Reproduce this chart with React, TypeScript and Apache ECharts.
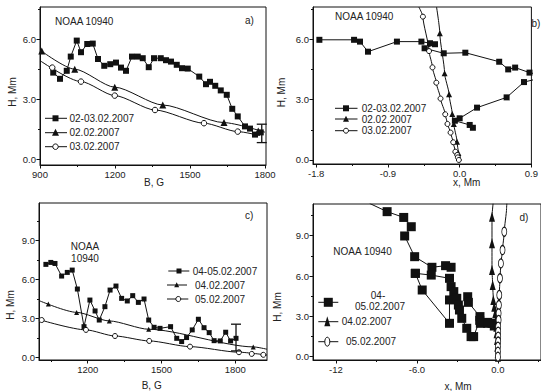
import React, { useEffect, useRef } from "react";
import * as echarts from "echarts";

const FONT = "'Liberation Sans', Arial, sans-serif";
const INK = "#111";

// ---------- Panel a ----------
const aSqB = [953, 980, 1007, 1023, 1047, 1064, 1089, 1111, 1132, 1157, 1181, 1204, 1224, 1244, 1268, 1291, 1311, 1335, 1356, 1383, 1404, 1424, 1447, 1468, 1491, 1537, 1564, 1580, 1601, 1623, 1647, 1669, 1691, 1720, 1740, 1760, 1783];
const aSqH = [4.32, 4.01, 4.41, 5.12, 5.92, 5.34, 5.75, 5.77, 5.0, 4.66, 4.74, 4.82, 4.57, 4.41, 5.12, 5.12, 5.04, 4.59, 5.04, 5.04, 4.94, 4.87, 4.71, 4.54, 4.52, 4.12, 3.74, 3.86, 3.66, 3.43, 3.21, 2.51, 2.13, 1.63, 1.52, 1.22, 1.33];
const aTriB = [907, 1039, 1199, 1391, 1636, 1773];
const aTriH = [5.4, 4.49, 3.59, 2.7, 1.82, 1.4];
const aTriCurveB = [900, 1039, 1199, 1391, 1636, 1800];
const aTriCurveH = [5.45, 4.49, 3.59, 2.7, 1.82, 1.34];
const aCirB = [949, 1064, 1199, 1360, 1556, 1691];
const aCirH = [4.57, 3.87, 3.17, 2.45, 1.79, 1.37];
const aCirCurveB = [900, 1064, 1199, 1360, 1556, 1691, 1780];
const aCirCurveH = [4.92, 3.87, 3.17, 2.45, 1.79, 1.37, 1.17];
const aErr = [1787, 1.28, 0.46];

// ---------- Panel b ----------
const bSqX = [-1.76, -1.325, -1.25, -1.15, -0.787, -0.48, -0.372, -0.309, -0.44, -0.2, 0.071, 0.496, 0.609, 0.696, 0.876, 1.1, 0.807, 0.589, 0.218, 0.0, -0.06, 0.126, 0.166];
const bSqH = [5.97, 5.97, 5.88, 5.38, 5.88, 5.88, 5.8, 5.75, 5.55, 5.3, 5.33, 4.88, 4.5, 4.59, 4.34, 4.15, 3.87, 3.11, 2.6, 2.07, 1.95, 1.74, 1.6];
const bTriX = [-0.249, -0.189, -0.133, -0.093, -0.073, -0.033, -0.016];
const bTriH = [6.29, 4.31, 3.26, 2.29, 1.79, 0.91, 0.35];
const bTriCurveX = [-0.29, -0.249, -0.189, -0.133, -0.093, -0.073, -0.033, -0.016, 0.0];
const bTriCurveH = [7.6, 6.29, 4.31, 3.26, 2.29, 1.79, 0.91, 0.35, 0.0];
const bCirX = [-0.461, -0.384, -0.341, -0.293, -0.24, -0.181, -0.153, -0.114, -0.081, -0.054, -0.03, -0.022, -0.01];
const bCirH = [7.12, 5.41, 4.6, 3.84, 3.05, 2.27, 1.79, 1.36, 0.88, 0.41, 0.25, 0.13, 0.0];
const bCirCurveX = [-0.512, -0.461, -0.384, -0.341, -0.293, -0.24, -0.181, -0.153, -0.114, -0.081, -0.054, -0.03, -0.01];
const bCirCurveH = [7.6, 7.12, 5.41, 4.6, 3.84, 3.05, 2.27, 1.79, 1.36, 0.88, 0.41, 0.25, 0.0];

// ---------- Panel c ----------
const cSqB = [1030, 1050, 1067, 1094, 1117, 1137, 1158, 1185, 1209, 1230, 1247, 1270, 1291, 1315, 1338, 1361, 1383, 1406, 1429, 1448, 1470, 1494, 1537, 1562, 1582, 1602, 1625, 1650, 1673, 1694, 1714, 1739, 1761, 1781, 1803];
const cSqH = [7.17, 7.32, 7.24, 6.27, 6.55, 6.73, 5.27, 2.37, 4.42, 3.58, 2.88, 3.91, 5.19, 5.5, 4.55, 4.35, 4.76, 4.24, 4.5, 2.88, 2.32, 2.24, 2.37, 1.47, 1.22, 1.53, 2.12, 2.94, 2.29, 1.91, 1.29, 1.27, 1.94, 1.27, 1.47];
const cTriB = [1040, 1155, 1288, 1448, 1873];
const cTriH = [4.12, 3.47, 2.81, 2.17, 0.81];
const cTriCurveB = [1002, 1155, 1288, 1448, 1873, 1929];
const cTriCurveH = [4.38, 3.47, 2.81, 2.17, 0.81, 0.63];
const cCirB = [1013, 1193, 1311, 1450, 1616, 1815, 1867, 1914];
const cCirH = [2.88, 2.12, 1.65, 1.27, 0.83, 0.4, 0.27, 0.2];
const cCirCurveB = [1002, 1193, 1311, 1450, 1616, 1815, 1929];
const cCirCurveH = [2.92, 2.12, 1.65, 1.27, 0.83, 0.4, 0.18];
const cErr = [1803, 1.53, 1.03];

// ---------- Panel d ----------
const dSqAX = [-9.5, -8.21, -6.98, -6.42, -6.91, -6.17, -4.89, -3.88, -3.47];
const dSqAH = [11.4, 10.79, 10.36, 9.67, 8.98, 7.44, 6.65, 6.77, 6.65];
const dSqBX = [-6.12, -4.94, -3.59, -3.47, -3.27, -3.05, -2.93, -2.85, -2.68, -2.31, -1.99, -1.8, -1.35, -0.76, -0.44, -0.27];
const dSqBH = [6.2, 6.07, 5.83, 5.21, 4.84, 4.34, 3.84, 3.47, 2.85, 2.11, 1.49, 1.49, 2.7, 2.48, 2.48, 2.28];
const dSqCX = [-6.12, -5.61, -3.59, -3.59];
const dSqCH = [6.2, 4.96, 2.48, 4.22];
const dSqDX = [-2.24, -2.19, -1.33, -1.3, -0.76];
const dSqDH = [4.46, 4.04, 2.98, 2.48, 2.55];
const dTriX = [-0.44, -0.44, -0.44, -0.39, -0.34, -0.27, -0.2, -0.15, -0.12, -0.1, -0.07, -0.05, -0.02, 0.0];
const dTriH = [10.41, 8.43, 6.45, 5.33, 4.22, 3.72, 3.22, 2.73, 2.23, 1.74, 1.24, 0.74, 0.25, 0.0];
const dTriCurveX = [-0.36, ...dTriX];
const dTriCurveH = [11.4, ...dTriH];
const dCirX = [0.47, 0.34, 0.22, 0.15, 0.1, 0.07, 0.05, 0.05, 0.02, 0.02, 0.02, 0.02, 0.0, 0.0, 0.0];
const dCirH = [9.3, 7.93, 6.94, 5.83, 4.59, 3.84, 3.22, 2.73, 2.23, 1.86, 1.49, 1.12, 0.74, 0.37, 0.0];
const dCirCurveX = [0.66, 0.64, ...dCirX];
const dCirCurveH = [11.4, 11.03, ...dCirH];

// ---------- Axes / ticks ----------
const aXMajor = [900, 1200, 1500, 1800];
const aXMinor = [1050, 1350, 1650];
const bXMajor = [-1.8, -0.9, 0, 0.9];
const bXMinor = [-1.35, -0.45, 0.45];
const cXMajor = [1200, 1500, 1800];
const cXMinor = [1050, 1350, 1650];
const dXMajor = [-12, -6, 0];
const dXLabels = ["-12", "-6.0", "0.0"];
const dXMinor = [-9, -3, 3];
const abYMajor = [0, 3, 6];
const abYMinor = [1.5, 4.5, 7.5];
const cdYMajor = [0, 3, 6, 9];
const cdYMinor = [1.5, 4.5, 7.5, 10.5];

const legendA = ["02-03.02.2007", "02.02.2007", "03.02.2007"];
const legendC = ["04-05.02.2007", "04.02.2007", "05.02.2007"];

const zip = (xs: number[], ys: number[]) => xs.map((x, i) => [x, ys[i]]);

function axisPair(grid: number, dim: "x" | "y", min: number, max: number, major: number[], minor: number[], fmt: (v: number) => string) {
  const main: any = {
    type: "value",
    gridIndex: grid,
    min,
    max,
    position: dim === "x" ? "bottom" : "left",
    axisLine: { show: true, onZero: false, lineStyle: { color: INK, width: 1 } },
    axisTick: { show: true, inside: false, length: 3.5, customValues: major, lineStyle: { color: INK, width: 1 } },
    axisLabel: { show: true, customValues: major, formatter: (v: number) => fmt(v), fontSize: 9.5, color: "#222", fontFamily: FONT, margin: 4 },
    splitLine: { show: false },
  };
  const mi: any = {
    type: "value",
    gridIndex: grid,
    min,
    max,
    position: dim === "x" ? "bottom" : "left",
    axisLine: { show: false, onZero: false },
    axisTick: { show: true, inside: false, length: 2, customValues: minor, lineStyle: { color: INK, width: 1 } },
    axisLabel: { show: false },
    splitLine: { show: false },
  };
  return [main, mi];
}

function lineS(g: number, data: number[][], opts: any = {}) {
  return {
    type: "line",
    xAxisIndex: g * 2,
    yAxisIndex: g * 2,
    data,
    symbol: opts.symbol ?? "none",
    symbolSize: opts.size ?? 6,
    smooth: opts.smooth ?? false,
    smoothMonotone: opts.mono,
    showSymbol: opts.symbol ? true : false,
    lineStyle: { color: INK, width: 1 },
    itemStyle: { color: opts.fill ?? INK, borderColor: INK, borderWidth: opts.fill ? 1 : 0 },
    z: opts.z ?? 2,
    silent: true,
  };
}

function scatterS(g: number, data: number[][], symbol: string, size: any, open = false) {
  return {
    type: "scatter",
    xAxisIndex: g * 2,
    yAxisIndex: g * 2,
    data,
    symbol,
    symbolSize: size,
    itemStyle: { color: open ? "#fff" : INK, borderColor: INK, borderWidth: open ? 1 : 0, opacity: 1 },
    z: 3,
    silent: true,
  };
}

function errS(g: number, d: number[]) {
  return {
    type: "custom",
    xAxisIndex: g * 2,
    yAxisIndex: g * 2,
    data: [d],
    z: 4,
    silent: true,
    renderItem: (_p: any, api: any) => {
      const x = api.value(0), y = api.value(1), e = api.value(2);
      const t = api.coord([x, y + e]);
      const b = api.coord([x, y - e]);
      const st = { stroke: INK, lineWidth: 1.3 };
      return {
        type: "group",
        children: [
          { type: "line", shape: { x1: t[0], y1: t[1], x2: b[0], y2: b[1] }, style: st },
          { type: "line", shape: { x1: t[0] - 5, y1: t[1], x2: t[0] + 5, y2: t[1] }, style: st },
          { type: "line", shape: { x1: b[0] - 5, y1: b[1], x2: b[0] + 5, y2: b[1] }, style: st },
        ],
      };
    },
  };
}

function txt(x: number, y: number, text: string, opts: any = {}) {
  return {
    type: "text",
    x,
    y,
    rotation: opts.rot ?? 0,
    z: 10,
    style: {
      text,
      fontSize: opts.size ?? 10,
      fontFamily: FONT,
      fill: "#222",
      textAlign: opts.align ?? "left",
      textVerticalAlign: "middle",
    },
  };
}

function marker(kind: string, mx: number, y: number, s: number, s2?: number): any {
  if (kind === "sq") return { type: "rect", z: 10, shape: { x: mx - s / 2, y: y - s / 2, width: s, height: s }, style: { fill: INK } };
  if (kind === "tri") {
    const h = s2 ?? s;
    return { type: "polygon", z: 10, shape: { points: [[mx, y - h * 0.55], [mx - s / 2, y + h * 0.45], [mx + s / 2, y + h * 0.45]] }, style: { fill: INK } };
  }
  if (kind === "ell") return { type: "ellipse", z: 10, shape: { cx: mx, cy: y, rx: s / 2, ry: (s2 ?? s) / 2 }, style: { fill: "#fff", stroke: INK, lineWidth: 1 } };
  return { type: "circle", z: 10, shape: { cx: mx, cy: y, r: s / 2 }, style: { fill: "#fff", stroke: INK, lineWidth: 1 } };
}

function legRow(x1: number, x2: number, mx: number, y: number, kind: string, s: number, s2?: number) {
  return [
    { type: "line", z: 9, shape: { x1, y1: y, x2, y2: y }, style: { stroke: INK, lineWidth: 1 } },
    marker(kind, mx, y, s, s2),
  ];
}

export default function App() {
  const ref = useRef<HTMLDivElement>(null);
  useEffect(() => {
    if (!ref.current) return;
    const chart = echarts.init(ref.current, undefined, { renderer: "svg" });
    const fy = (v: number) => v.toFixed(1);
    const [ax, axm] = axisPair(0, "x", 900, 1804, aXMajor, aXMinor, (v) => String(v));
    const [ay, aym] = axisPair(0, "y", -0.3, 7.6, abYMajor, abYMinor, fy);
    const [bx, bxm] = axisPair(1, "x", -1.84, 0.9, bXMajor, bXMinor, (v) => v.toFixed(1));
    const [by, bym] = axisPair(1, "y", -0.2, 7.6, abYMajor, abYMinor, fy);
    const [cx, cxm] = axisPair(2, "x", 1002, 1929, cXMajor, cXMinor, (v) => String(v));
    const [cy, cym] = axisPair(2, "y", -0.2, 11.9, cdYMajor, cdYMinor, fy);
    const [dx, dxm] = axisPair(3, "x", -13.7, 3.19, dXMajor, dXMinor, (v) => {
      const i = dXMajor.indexOf(Math.round(v));
      return i >= 0 ? dXLabels[i] : "";
    });
    const [dy, dym] = axisPair(3, "y", -0.25, 11.36, cdYMajor, cdYMinor, fy);

    const gridBase = { show: true, borderColor: INK, borderWidth: 1, backgroundColor: "transparent", containLabel: false };

    const graphics: any[] = [
      // panel a
      txt(55, 21.7, "NOAA 10940"),
      txt(245, 20.7, "a)"),
      txt(12, 92, "H, Mm", { rot: Math.PI / 2, align: "center" }),
      txt(154, 182.7, "B, G", { align: "center" }),
      ...legRow(45, 67, 55.5, 118.3, "sq", 6),
      txt(69.5, 118.3, legendA[0]),
      ...legRow(45, 67, 55.5, 132.7, "tri", 7),
      txt(69.5, 132.7, legendA[1]),
      ...legRow(45, 67, 55.5, 146.7, "circ", 5.5),
      txt(69.5, 146.7, legendA[2]),
      // panel b
      txt(335, 16.7, "NOAA 10940"),
      txt(531.5, 23.3, "b)"),
      txt(281.5, 92.5, "H, Mm", { rot: Math.PI / 2, align: "center" }),
      txt(466.7, 182.7, "x, Mm", { align: "center" }),
      ...legRow(335, 357.5, 346, 108.3, "sq", 6),
      txt(361.7, 108.3, legendA[0]),
      ...legRow(335, 357.5, 346, 119, "tri", 6),
      txt(361.7, 119, legendA[1]),
      ...legRow(335, 357.5, 346, 130.7, "circ", 5),
      txt(361.7, 130.7, legendA[2]),
      // panel c
      txt(85, 246.7, "NOAA", { align: "center" }),
      txt(85, 258.3, "10940", { align: "center" }),
      txt(245, 215.7, "c)"),
      txt(10, 305, "H, Mm", { rot: Math.PI / 2, align: "center" }),
      txt(151.7, 385, "B, G", { align: "center" }),
      ...legRow(168.3, 189.3, 179, 271, "sq", 5),
      txt(192.7, 271, legendC[0]),
      ...legRow(167, 187, 176.7, 285, "tri", 5),
      txt(195, 285, legendC[1]),
      ...legRow(167, 188.3, 178.3, 299, "circ", 5),
      txt(195, 299, legendC[2]),
      // panel d
      txt(362.5, 251.7, "NOAA 10940", { align: "center" }),
      txt(519.5, 217.7, "d)"),
      txt(277.3, 307, "H, Mm", { rot: Math.PI / 2, align: "center" }),
      txt(458, 386, "x, Mm", { align: "center" }),
      ...legRow(318.3, 338.3, 328.3, 302.3, "sq", 9),
      txt(378, 295, "04-", { align: "center" }),
      txt(355, 306.7, "05.02.2007"),
      ...legRow(318.3, 338.3, 327.3, 321.7, "tri", 6, 10),
      txt(341.7, 321.7, legendC[1]),
      ...legRow(318.3, 338.3, 327.3, 341.7, "ell", 5, 9),
      txt(346, 341.7, legendC[2]),
    ];

    chart.setOption({
      animation: false,
      backgroundColor: "#fff",
      textStyle: { fontFamily: FONT },
      grid: [
        { ...gridBase, left: 40, top: 7, width: 226, height: 158 },
        { ...gridBase, left: 313, top: 7, width: 229, height: 157 },
        { ...gridBase, left: 39, top: 203, width: 228, height: 157 },
        { ...gridBase, left: 313, top: 204, width: 229, height: 156 },
      ],
      xAxis: [ax, axm, bx, bxm, cx, cxm, dx, dxm],
      yAxis: [ay, aym, by, bym, cy, cym, dy, dym],
      series: [
        // a
        lineS(0, zip(aSqB, aSqH), { symbol: "rect", size: 6 }),
        lineS(0, zip(aTriCurveB, aTriCurveH), { smooth: 0.25, mono: "x" }),
        scatterS(0, zip(aTriB, aTriH), "triangle", 7),
        lineS(0, zip(aCirCurveB, aCirCurveH), { smooth: 0.25, mono: "x" }),
        scatterS(0, zip(aCirB, aCirH), "circle", 5.5, true),
        errS(0, aErr),
        // b
        lineS(1, zip(bSqX, bSqH), { symbol: "rect", size: 6 }),
        lineS(1, zip(bTriCurveX, bTriCurveH), { smooth: 0.2, mono: "y" }),
        scatterS(1, zip(bTriX, bTriH), "triangle", 6),
        lineS(1, zip(bCirCurveX, bCirCurveH), { smooth: 0.2, mono: "y" }),
        scatterS(1, zip(bCirX, bCirH), "circle", 5, true),
        // c
        lineS(2, zip(cSqB, cSqH), { symbol: "rect", size: 5 }),
        lineS(2, zip(cTriCurveB, cTriCurveH), { smooth: 0.25, mono: "x" }),
        scatterS(2, zip(cTriB, cTriH), "triangle", 5),
        lineS(2, zip(cCirCurveB, cCirCurveH), { smooth: 0.25, mono: "x" }),
        scatterS(2, zip(cCirB, cCirH), "circle", 5, true),
        errS(2, cErr),
        // d
        lineS(3, zip(dSqAX, dSqAH), { symbol: "rect", size: 9 }),
        lineS(3, zip(dSqBX, dSqBH), { symbol: "rect", size: 9 }),
        lineS(3, zip(dSqCX, dSqCH), { symbol: "rect", size: 9 }),
        lineS(3, zip(dSqDX, dSqDH), { symbol: "rect", size: 9 }),
        lineS(3, zip(dTriCurveX, dTriCurveH), { smooth: 0.2, mono: "y" }),
        scatterS(3, zip(dTriX, dTriH), "triangle", [6, 10]),
        lineS(3, zip(dCirCurveX, dCirCurveH), { smooth: 0.2, mono: "y" }),
        scatterS(3, zip(dCirX, dCirH), "circle", [5, 9], true),
      ],
      graphic: graphics,
    });
    return () => chart.dispose();
  }, []);
  return <div ref={ref} style={{ position: "absolute", left: 0, top: 0, width: 541, height: 391 }} />;
}
